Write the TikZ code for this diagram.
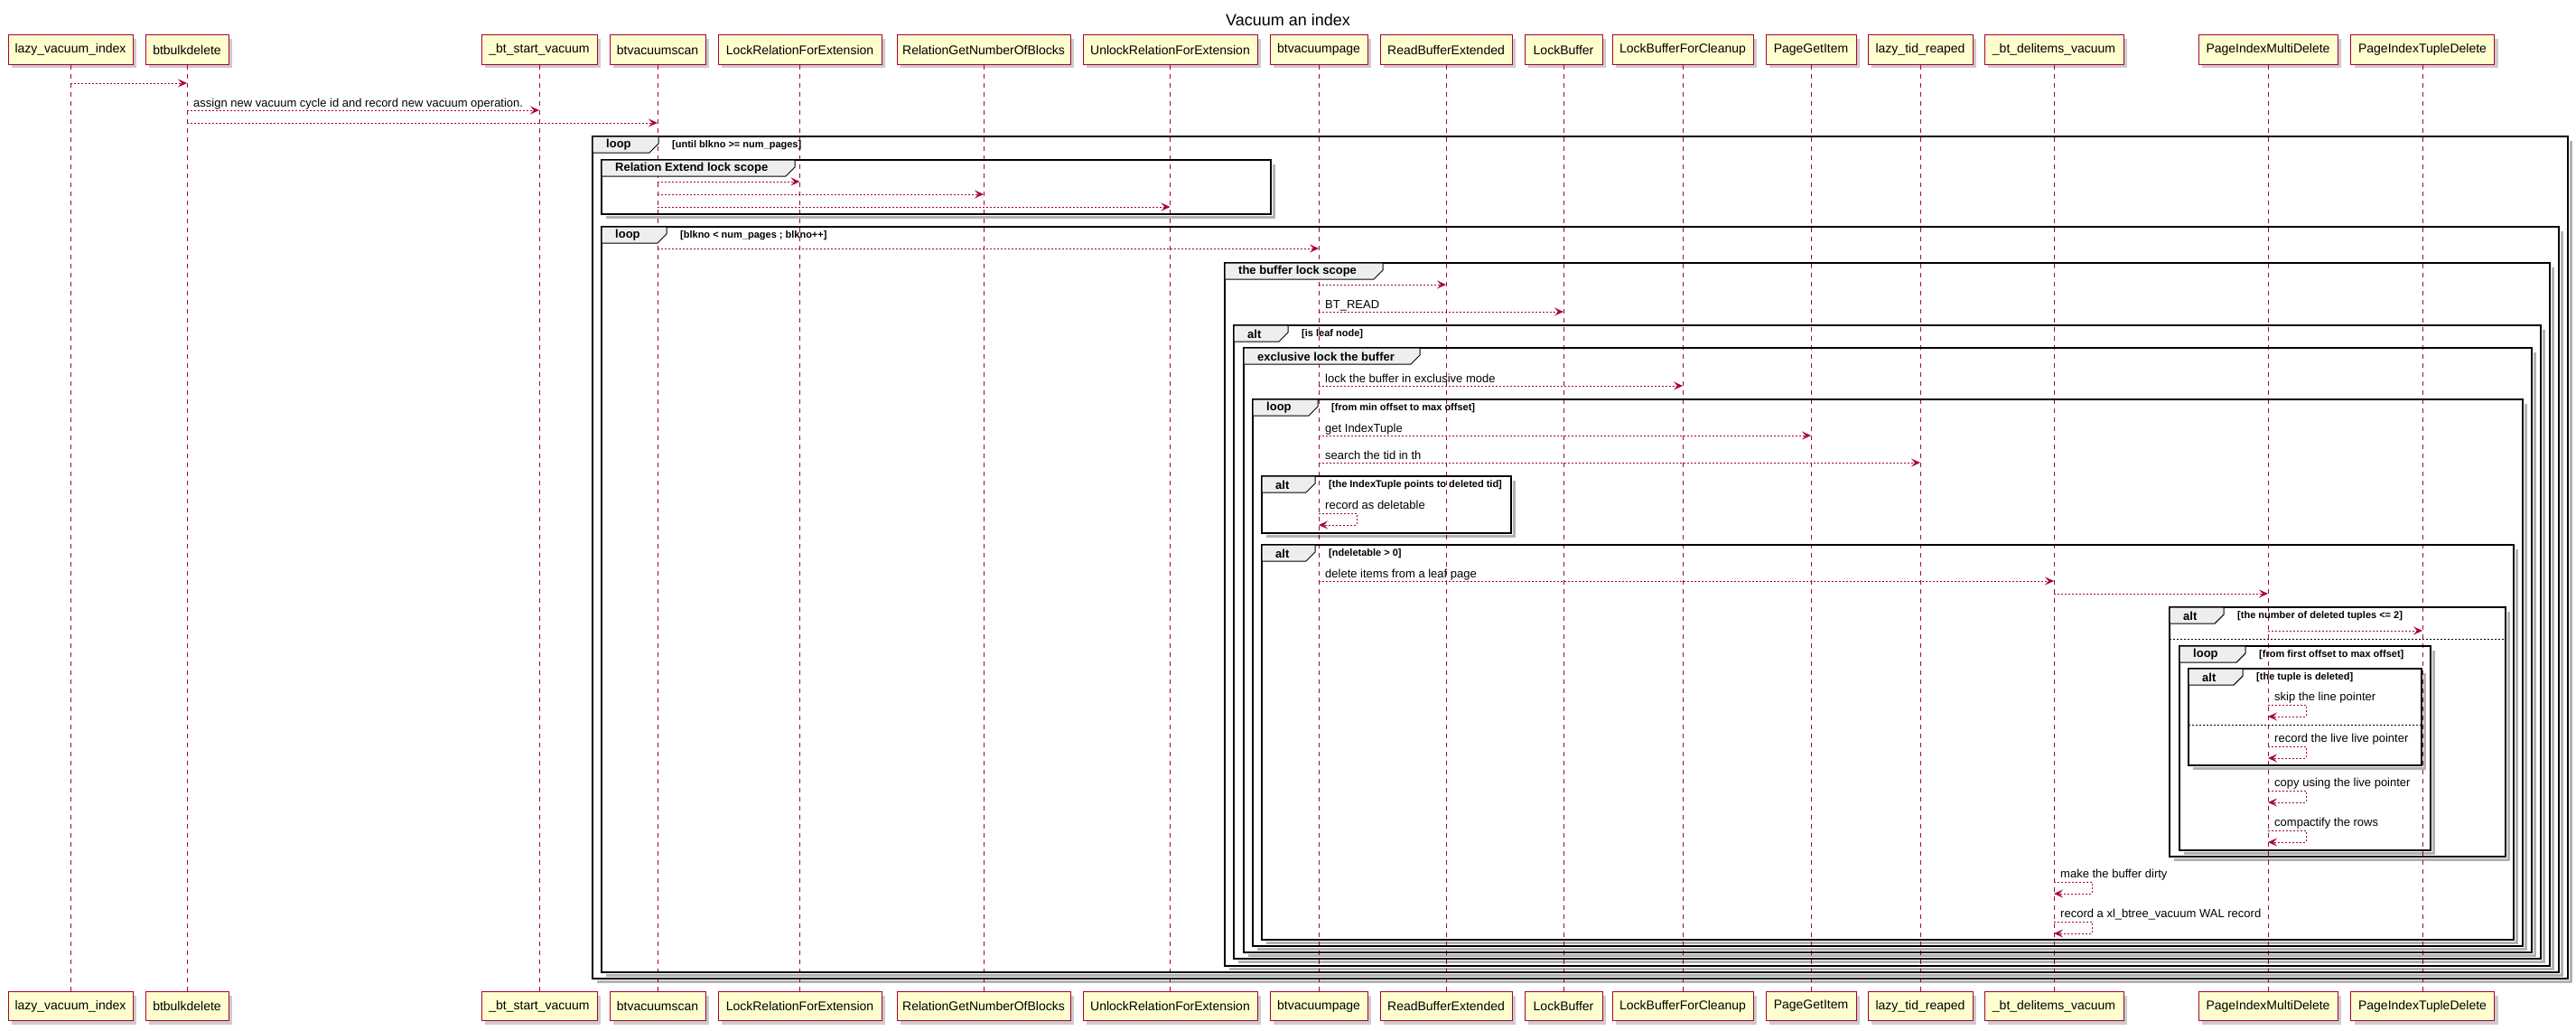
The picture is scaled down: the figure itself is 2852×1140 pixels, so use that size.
\documentclass[tikz,border=0pt]{standalone}
\usepackage{fontspec}
\setmainfont{Liberation Sans}
\usetikzlibrary{arrows.meta,shadows,calc}
\definecolor{umlred}{HTML}{A80036}
\definecolor{umlfill}{HTML}{FEFECE}
\definecolor{tabfill}{HTML}{EEEEEE}
\tikzset{
 part/.style={draw=umlred, fill=umlfill, line width=1pt, minimum height=32pt, inner sep=0pt,
   font=\fontsize{14}{16}\selectfont,
   drop shadow={shadow xshift=4pt, shadow yshift=-4pt, fill=black, opacity=0.2}},
 life/.style={draw=umlred, line width=0.9pt, dash pattern=on 5pt off 5pt},
 msg/.style={draw=umlred, line width=1pt, dash pattern=on 2pt off 2pt,
   -{Stealth[length=10pt,width=9pt,inset=4pt,fill=umlred]}},
 mtxt/.style={anchor=base west, inner sep=0pt, font=\fontsize{13}{15}\selectfont},
 frm/.style={draw=black, line width=1.7pt},
 fshadow/.style={draw=black, line width=3pt, opacity=0.3},
 tabshape/.style={draw=black, fill=tabfill, line width=1pt},
 hdr/.style={anchor=west, inner sep=0pt, font=\bfseries\fontsize{13}{15}\selectfont},
 grd/.style={anchor=west, inner sep=0pt, font=\bfseries\fontsize{11}{13}\selectfont},
 sepline/.style={draw=black, line width=0.8pt, dash pattern=on 2pt off 2pt},
}
% #1 name, #2 left, #3 top, #4 right, #5 bottom, #6 tab right, #7 label, #8 guard
\newcommand{\umlframe}[8]{%
 \draw[fshadow] (#4+3,#3+5) -- (#4+3,#5+3) -- (#2+5,#5+3);
 \draw[frm] (#2,#3) rectangle (#4,#5);
 \filldraw[tabshape] (#2,#3) -- (#6,#3) -- (#6,#3+8) -- (#6-10,#3+18) -- (#2,#3+18) -- cycle;
 \node[hdr] (#1) at (#2+15,#3+9.5) {#7};
 \node[grd] (#1g) at (#6+15,#3+10) {#8};
}
\newcommand{\umlmsg}[5]{% #1 from, #2 to, #3 y, #4 label node, #5 label
 \draw[msg] (#1 |- 0,#3) -- (#2 |- 0,#3);
 \node[mtxt] (#4) at ($(#1 |- 0,#3)+(7,-4)$) {#5};
}
\newcommand{\umlself}[4]{% #1 node, #2 y, #3 label node, #4 label
 \draw[msg] (#1 |- 0,#2) -- ++(42,0) -- ++(0,13) -- ++(-42,0);
 \node[mtxt] (#3) at ($(#1 |- 0,#2)+(7,-5)$) {#4};
}
\begin{document}
\begin{tikzpicture}[x=1pt,y=-1pt]
\useasboundingbox (0,0) rectangle (2852,1140);
\node[anchor=base, font=\fontsize{18}{20}\selectfont] (title) at (1426,29) {Vacuum an index};

% participants: name, x, width
\foreach \n/\x/\w/\t in {
 lvi/78/138/lazy\_vacuum\_index,
 bbd/207/92/btbulkdelete,
 bsv/597/128/\_bt\_start\_vacuum,
 bvs/728/106/btvacuumscan,
 lrfe/885.5/181/LockRelationForExtension,
 rgnb/1089/192/RelationGetNumberOfBlocks,
 urfe/1295.5/193/UnlockRelationForExtension,
 bvp/1460/108/btvacuumpage,
 rbe/1601/146/ReadBufferExtended,
 lb/1731/86/LockBuffer,
 lbfc/1863/156/LockBufferForCleanup,
 pgi/2005/100/PageGetItem,
 ltr/2126/116/lazy\_tid\_reaped,
 bdv/2274/154/\_bt\_delitems\_vacuum,
 pimd/2511/154/PageIndexMultiDelete,
 pitd/2682/159/PageIndexTupleDelete}{
 \node[part, minimum width=\w pt] (\n) at (\x,55) {\t};
 \node[part, minimum width=\w pt] (\n b) at (\x,1113.5) {\t};
 \draw[life] (\n) -- (\n b);
}

% frames
\umlframe{fA}{656}{151}{2843}{1083}{729}{loop}{[until blkno >= num\_pages]}
\umlframe{fB}{666}{177}{1407}{237}{880}{Relation Extend lock scope}{}
\umlframe{fC}{666}{251}{2833}{1076}{738}{loop}{[blkno < num\_pages ; blkno++]}
\umlframe{fD}{1356}{291}{2823}{1069}{1531}{the buffer lock scope}{}
\umlframe{fE}{1366}{360}{2813}{1061}{1426}{alt}{[is leaf node]}
\umlframe{fF}{1377}{385}{2803}{1054}{1572}{exclusive lock the buffer}{}
\umlframe{fG}{1387}{442}{2793}{1047}{1459}{loop}{[from min offset to max offset]}
\umlframe{fH}{1397}{527}{1673}{590}{1456}{alt}{[the IndexTuple points to deleted tid]}
\umlframe{fI}{1397}{603}{2783}{1040}{1456}{alt}{[ndeletable > 0]}
\umlframe{fJ}{2402}{672}{2774}{948}{2462}{alt}{[the number of deleted tuples <= 2]}
\draw[sepline] (2402,707) -- (2774,707);
\umlframe{fK}{2413}{715}{2691}{941}{2486}{loop}{[from first offset to max offset]}
\umlframe{fL}{2423}{740}{2681}{847}{2483}{alt}{[the tuple is deleted]}
\draw[sepline] (2423,802) -- (2681,802);

% messages
\umlmsg{lvi}{bbd}{92}{m1}{}
\umlmsg{bbd}{bsv}{122}{m2}{assign new vacuum cycle id and record new vacuum operation.}
\umlmsg{bbd}{bvs}{136}{m3}{}
\umlmsg{bvs}{lrfe}{201}{m4}{}
\umlmsg{bvs}{rgnb}{215}{m5}{}
\umlmsg{bvs}{urfe}{229}{m6}{}
\umlmsg{bvs}{bvp}{275}{m7}{}
\umlmsg{bvp}{rbe}{315}{m8}{}
\umlmsg{bvp}{lb}{345}{m9}{BT\_READ}
\umlmsg{bvp}{lbfc}{427}{m10}{lock the buffer in exclusive mode}
\umlmsg{bvp}{pgi}{482}{m11}{get IndexTuple}
\umlmsg{bvp}{ltr}{512}{m12}{search the tid in th}
\umlself{bvp}{568}{m13}{record as deletable}
\umlmsg{bvp}{bdv}{643}{m14}{delete items from a leaf page}
\umlmsg{bdv}{pimd}{657}{m15}{}
\umlmsg{pimd}{pitd}{698}{m16}{}
\umlself{pimd}{780}{m17}{skip the line pointer}
\umlself{pimd}{826}{m18}{record the live live pointer}
\umlself{pimd}{875}{m19}{copy using the live pointer}
\umlself{pimd}{919}{m20}{compactify the rows}
\umlself{bdv}{976}{m21}{make the buffer dirty}
\umlself{bdv}{1020}{m22}{record a xl\_btree\_vacuum WAL record}
\end{tikzpicture}
\end{document}
